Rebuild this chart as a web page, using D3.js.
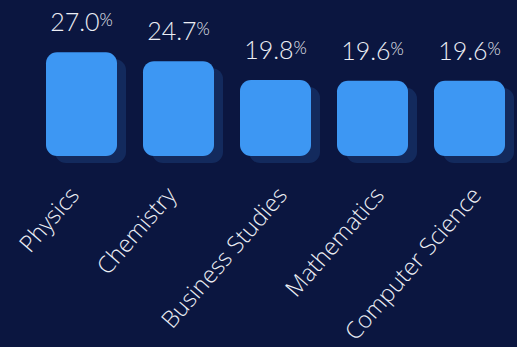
<!DOCTYPE html>
<html>
<head>
<meta charset="utf-8">
<script src="https://cdn.jsdelivr.net/npm/d3@7"></script>
<style>
  html, body { margin: 0; padding: 0; background: #0b1640; }
  svg { display: block; }
</style>
</head>
<body>
<div id="chart"></div>
<script>
// Chart data
const subjects = ['Physics', 'Chemistry', 'Business Studies', 'Mathematics', 'Computer Science'];
const shares = [27.0, 24.7, 19.8, 19.6, 19.6];

const W = 517, H = 347;
const baseY = 156;

const svg = d3.select('#chart')
    .append('svg')
    .attr('width', W)
    .attr('height', H);

svg.append('rect')
    .attr('width', W)
    .attr('height', H)
    .attr('fill', '#0b1640');

// X scale (subjects)
const x = d3.scaleBand()
    .domain(subjects)
    .range([33, 518])
    .paddingInner(0.268)
    .paddingOuter(0.134);

// Y scale (share in %)
const y = d3.scaleLinear()
    .domain([0, 27])
    .range([baseY, 52.3]);

const data = subjects.map((s, i) => ({ subject: s, value: shares[i] }));

// Shadow bars
svg.selectAll('rect.shadow')
    .data(data)
    .enter()
    .append('rect')
    .attr('class', 'shadow')
    .attr('x', d => x(d.subject) + 9)
    .attr('y', d => y(d.value) + 7)
    .attr('width', x.bandwidth())
    .attr('height', d => baseY - y(d.value))
    .attr('rx', 11)
    .attr('fill', '#132a5d');

// Main bars
svg.selectAll('rect.bar')
    .data(data)
    .enter()
    .append('rect')
    .attr('class', 'bar')
    .attr('x', d => x(d.subject))
    .attr('y', d => y(d.value))
    .attr('width', x.bandwidth())
    .attr('height', d => baseY - y(d.value))
    .attr('rx', 11)
    .attr('fill', '#3d97f3');

// Value labels
const vals = svg.selectAll('text.val')
    .data(data)
    .enter()
    .append('text')
    .attr('class', 'val')
    .attr('x', d => x(d.subject) + x.bandwidth() / 2)
    .attr('y', d => y(d.value) - 21)
    .attr('text-anchor', 'middle')
    .attr('fill', '#eceef4')
    .style('font-family', 'Lato, sans-serif')
    .style('font-weight', 300)
    .style('font-size', '25px');

vals.append('tspan').text(d => d.value.toFixed(1));
vals.append('tspan')
    .attr('dy', -5)
    .style('font-size', '17px')
    .text('%');

// Category labels (rotated); the longer ones sit a bit further right
const cats = svg.selectAll('text.cat')
    .data(data)
    .enter()
    .append('text')
    .attr('class', 'cat')
    .attr('text-anchor', 'end')
    .attr('fill', '#eceef4')
    .style('font-family', '"Open Sans", sans-serif')
    .style('font-weight', 300)
    .style('font-size', '23.5px')
    .text(d => d.subject);

cats.attr('transform', function(d) {
    const len = this.getComputedTextLength();
    const shift = len > 115 ? 14 : 0;
    return `translate(${x(d.subject) + x.bandwidth() / 2 - 1 + shift},${196}) rotate(-49)`;
});
</script>
</body>
</html>
